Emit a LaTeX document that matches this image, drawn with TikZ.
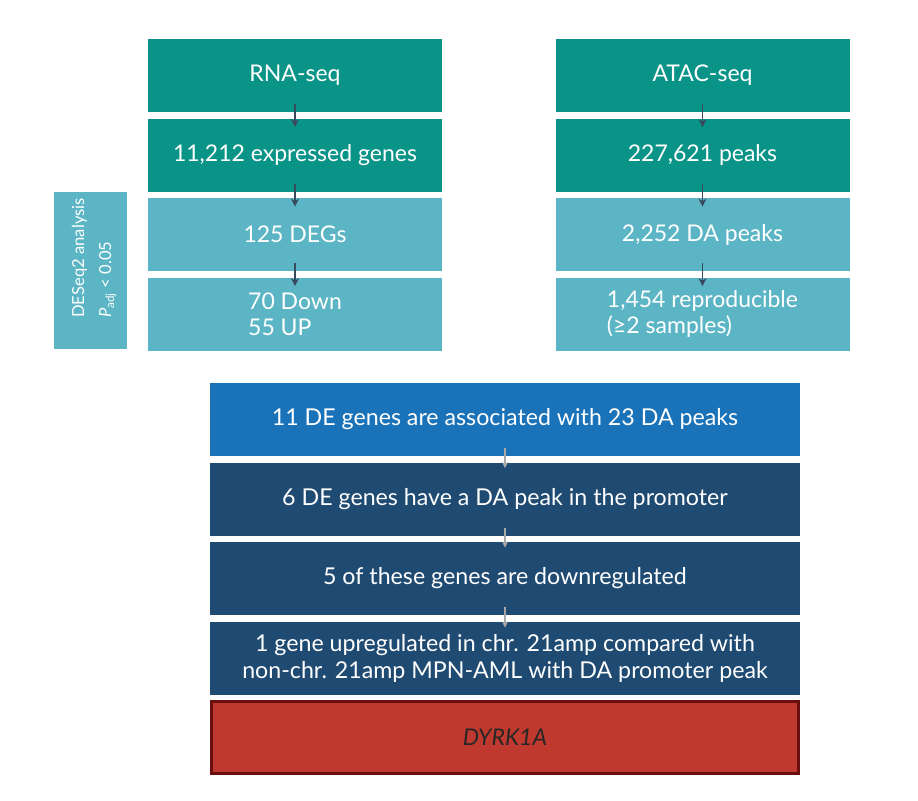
\documentclass[tikz,border=0pt]{standalone}
\usepackage{fontspec}
\setmainfont{Lato}
\usepackage{tikz}
\usetikzlibrary{arrows.meta}

\definecolor{tealdark}{HTML}{0A9488}
\definecolor{teallight}{HTML}{5BB5C4}
\definecolor{bluemid}{HTML}{1A72B8}
\definecolor{navy}{HTML}{1F4A72}
\definecolor{redbox}{HTML}{C0392F}
\definecolor{redline}{HTML}{6B0E0E}
\definecolor{arrowdark}{HTML}{3A4A5E}
\definecolor{arrowgray}{HTML}{A8A8A8}

\begin{document}
\begin{tikzpicture}[x=0.5pt,y=-0.5pt,
    colbox/.style={rectangle,minimum width=147pt,minimum height=36.5pt,
      inner sep=0pt,text=white,font=\fontsize{11.5}{13}\selectfont},
    widebox/.style={rectangle,minimum width=295pt,minimum height=36.5pt,
      inner sep=0pt,text=white,font=\fontsize{11.6}{13.5}\selectfont},
    flowarrow/.style={-{Stealth[length=4pt,width=4pt]},arrowdark,line width=0.9pt},
    thinarrow/.style={-{Stealth[length=3pt,width=3pt]},arrowgray,line width=0.6pt}]

    \useasboundingbox (0,0) rectangle (918,800);

    % RNA-seq column
    \node[colbox,fill=tealdark] (rna) at (295,75) {RNA-seq};
    \node[colbox,fill=tealdark] (genes) at (295,155) {11,212 expressed genes};
    \node[colbox,fill=teallight] (degs) at (295,234.5) {125 DEGs};
    \node[colbox,fill=teallight,align=left] (updown) at (295,314) {70 Down\\55 UP};

    % DESeq2 label
    \node[rectangle,fill=teallight,minimum width=36.5pt,minimum height=78.5pt,
      inner sep=0pt] (deseq) at (90.5,270.5) {};
    \node[rotate=90,text=white,align=left,font=\fontsize{8.3}{13.5}\selectfont]
      (deseqtxt) at (94,258) {DESeq2 analysis\\\textit{P}\textsubscript{adj} < 0.05};

    % ATAC-seq column
    \node[colbox,fill=tealdark] (atac) at (702.5,75) {ATAC-seq};
    \node[colbox,fill=tealdark] (peaks) at (702.5,155) {227,621 peaks};
    \node[colbox,fill=teallight] (dapeaks) at (702.5,234.5) {2,252 DA peaks};
    \node[colbox,fill=teallight,align=left] (repro) at (702.5,314) {1,454 reproducible\\(≥2 samples)};

    % integration
    \node[widebox,fill=bluemid] (assoc) at (505,419) {11 DE genes are associated with 23 DA peaks};
    \node[widebox,fill=navy] (promoter) at (505,499) {6 DE genes have a DA peak in the promoter};
    \node[widebox,fill=navy] (down) at (505,578.5) {5 of these genes are downregulated};
    \node[widebox,fill=navy,align=center] (upreg) at (505,658.5)
      {1 gene upregulated in chr. 21amp compared with\\non-chr. 21amp MPN-AML with DA promoter peak};
    \node[rectangle,fill=redbox,draw=redline,line width=1.5pt,minimum width=293.5pt,
      minimum height=36pt,inner sep=0pt,font=\fontsize{11.5}{13}\itshape,text=black!85] (dyrk) at (505,737) {DYRK1A};

    \draw[flowarrow] ([yshift=4pt]rna.south) -- ([yshift=-4.5pt]genes.north);
    \draw[flowarrow] ([yshift=4pt]genes.south) -- ([yshift=-4.5pt]degs.north);
    \draw[flowarrow] ([yshift=4pt]degs.south) -- ([yshift=-4.5pt]updown.north);
    \draw[flowarrow] ([yshift=4pt]atac.south) -- ([yshift=-4.5pt]peaks.north);
    \draw[flowarrow] ([yshift=4pt]peaks.south) -- ([yshift=-4.5pt]dapeaks.north);
    \draw[flowarrow] ([yshift=4pt]dapeaks.south) -- ([yshift=-4.5pt]repro.north);

    \draw[thinarrow] ([yshift=4pt]assoc.south) -- ([yshift=-3pt]promoter.north);
    \draw[thinarrow] ([yshift=4pt]promoter.south) -- ([yshift=-3pt]down.north);
    \draw[thinarrow] ([yshift=4pt]down.south) -- ([yshift=-3pt]upreg.north);
\end{tikzpicture}
\end{document}
